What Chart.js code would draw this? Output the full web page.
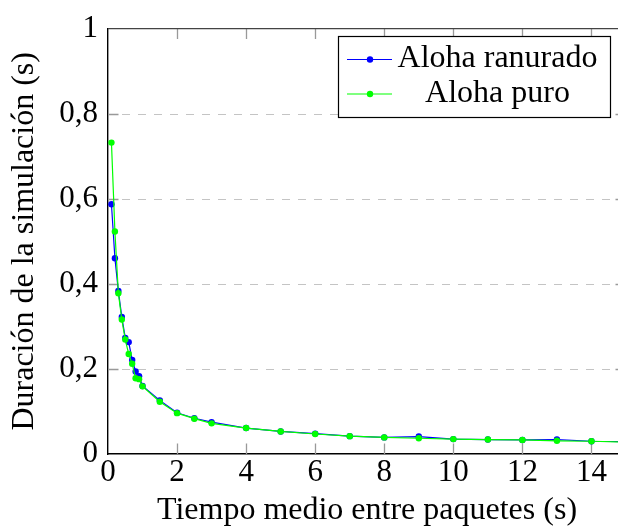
<!DOCTYPE html>
<html>
<head>
<meta charset="utf-8">
<script src="https://cdn.jsdelivr.net/npm/chart.js@4.4.1/dist/chart.umd.min.js"></script>
</head>
<body style="margin:0;padding:0;background:#fff;overflow:hidden">
<div id="wrap" style="position:relative;width:630px;height:530px;background:#fff"><canvas id="c" width="630" height="530"></canvas></div>
<script>
// ---- data ----
const xValues = [0.1, 0.2, 0.3, 0.4, 0.5, 0.6, 0.7, 0.8, 0.9, 1, 1.5, 2, 2.5, 3, 4, 5, 6, 7, 8, 9, 10, 11, 12, 13, 14, 15];
const alohaRanurado = [0.587, 0.460, 0.383, 0.322, 0.273, 0.263, 0.221, 0.194, 0.183, 0.160, 0.126, 0.097, 0.084, 0.075, 0.061, 0.053, 0.048, 0.042, 0.039, 0.041, 0.035, 0.034, 0.033, 0.034, 0.030, 0.029];
const alohaPuro = [0.732, 0.523, 0.378, 0.316, 0.269, 0.235, 0.212, 0.178, 0.176, 0.159, 0.123, 0.096, 0.083, 0.072, 0.061, 0.053, 0.047, 0.042, 0.039, 0.037, 0.035, 0.034, 0.033, 0.031, 0.030, 0.028];
const seriesNames = ['Aloha ranurado', 'Aloha puro'];
const xTicks = [0, 2, 4, 6, 8, 10, 12, 14];
const xTickLabels = ['0', '2', '4', '6', '8', '10', '12', '14'];
const yTicks = [0, 0.2, 0.4, 0.6, 0.8, 1];
const yTickLabels = ['0', '0,2', '0,4', '0,6', '0,8', '1'];
const xTitle = 'Tiempo medio entre paquetes (s)';
const yTitle = 'Duración de la simulación (s)';

const FONT = 'Liberation Serif';
const FS = 31;
const TFS = 32;
const colors = ['#0000ff', '#00ff00'];

const toPts = arr => arr.map((y, i) => ({ x: xValues[i], y }));

const decor = {
  id: 'decor',
  beforeDatasetsDraw(chart) {
    const { ctx, chartArea: a, scales: { x, y } } = chart;
    ctx.save();
    ctx.strokeStyle = '#c4c4c4';
    ctx.lineWidth = 1;
    ctx.setLineDash([8, 8]);
    yTicks.forEach(v => {
      if (v <= 0 || v >= 1) return;
      const py = Math.round(y.getPixelForValue(v)) + 0.5;
      ctx.beginPath();
      ctx.moveTo(a.left + 14, py);
      ctx.lineTo(a.right, py);
      ctx.stroke();
    });
    ctx.setLineDash([]);
    const TL = 10.5;
    ctx.strokeStyle = '#999999';
    ctx.lineWidth = 1.3;
    yTicks.forEach(v => {
      if (v <= 0 || v >= 1) return;
      const py = Math.round(y.getPixelForValue(v)) + 0.5;
      ctx.beginPath();
      ctx.moveTo(a.left, py); ctx.lineTo(a.left + TL, py);
      ctx.moveTo(a.right, py); ctx.lineTo(a.right - TL, py);
      ctx.stroke();
    });
    xTicks.forEach(v => {
      if (v <= 0) return;
      const px = Math.round(x.getPixelForValue(v)) + 0.5;
      ctx.beginPath();
      ctx.moveTo(px, a.bottom); ctx.lineTo(px, a.bottom - TL);
      ctx.moveTo(px, a.top); ctx.lineTo(px, a.top + TL);
      ctx.stroke();
    });
    ctx.strokeStyle = '#444444';
    ctx.lineWidth = 1.3;
    ctx.beginPath();
    ctx.moveTo(a.left, a.top);
    ctx.lineTo(a.right, a.top);
    ctx.lineTo(a.right, a.bottom);
    ctx.stroke();
    ctx.restore();
  },
  afterDraw(chart) {
    const { ctx } = chart;
    ctx.save();
    const bx = 338.5, by = 36.5, bw = 272, bh = 81;
    ctx.fillStyle = '#ffffff';
    ctx.fillRect(bx, by, bw, bh);
    ctx.strokeStyle = '#000000';
    ctx.lineWidth = 1.2;
    ctx.strokeRect(bx, by, bw, bh);
    const rows = [59.5, 94];
    const baselines = [67, 102];
    seriesNames.forEach((name, i) => {
      ctx.strokeStyle = colors[i];
      ctx.lineWidth = 1.2;
      ctx.beginPath();
      ctx.moveTo(347, rows[i]); ctx.lineTo(392, rows[i]);
      ctx.stroke();
      ctx.fillStyle = colors[i];
      ctx.beginPath();
      ctx.arc(370, rows[i], 3.2, 0, Math.PI * 2);
      ctx.fill();
      ctx.fillStyle = '#000000';
      ctx.font = TFS + 'px "' + FONT + '"';
      ctx.textAlign = 'center';
      ctx.textBaseline = 'alphabetic';
      ctx.fillText(name, 497.5, baselines[i]);
    });
    ctx.restore();
  }
};

Chart.defaults.font.family = FONT;
const chart = new Chart(document.getElementById('c'), {
  type: 'line',
  data: {
    datasets: [
      { label: seriesNames[0], data: toPts(alohaRanurado), borderColor: colors[0], backgroundColor: colors[0],
        borderWidth: 1.2, pointRadius: 3.2, pointBorderWidth: 0, pointBackgroundColor: colors[0], tension: 0, order: 2 },
      { label: seriesNames[1], data: toPts(alohaPuro), borderColor: colors[1], backgroundColor: colors[1],
        borderWidth: 1.2, pointRadius: 3.2, pointBorderWidth: 0, pointBackgroundColor: colors[1], tension: 0, order: 1 }
    ]
  },
  options: {
    responsive: false,
    animation: false,
    devicePixelRatio: 1,
    layout: { padding: { top: 23, right: 3, left: 0, bottom: 0 } },
    plugins: { legend: { display: false }, tooltip: { enabled: false } },
    scales: {
      x: {
        type: 'linear', min: 0, max: 15,
        afterBuildTicks: s => { s.ticks = xTicks.map(v => ({ value: v })); },
        afterFit: s => { s.height = 76; },
        ticks: { callback: (v, i) => xTickLabels[i], color: '#000', font: { family: FONT, size: FS }, padding: 0, maxRotation: 0, autoSkip: false },
        grid: { display: false, drawTicks: false },
        border: { display: true, color: '#000', width: 1.4 },
        title: { display: true, text: xTitle, color: '#000', font: { family: FONT, size: TFS }, padding: { top: 0, bottom: 0 } }
      },
      y: {
        type: 'linear', min: 0, max: 1,
        afterBuildTicks: s => { s.ticks = yTicks.map(v => ({ value: v })); },
        afterFit: s => { s.width = 108; },
        ticks: { callback: (v, i) => yTickLabels[i], color: '#000', font: { family: FONT, size: FS }, padding: 10, autoSkip: false },
        grid: { display: false, drawTicks: false },
        border: { display: true, color: '#000', width: 1.4 },
        title: { display: true, text: yTitle, color: '#000', font: { family: FONT, size: TFS }, padding: { top: 5, bottom: 0 } }
      }
    }
  },
  plugins: [decor]
});

const redraw = () => { try { chart.update('none'); } catch (e) {} };
if (document.fonts) {
  document.fonts.load(FS + 'px "' + FONT + '"').then(redraw, redraw);
  document.fonts.ready.then(redraw);
}
window.addEventListener('load', redraw);
</script>
</body>
</html>
